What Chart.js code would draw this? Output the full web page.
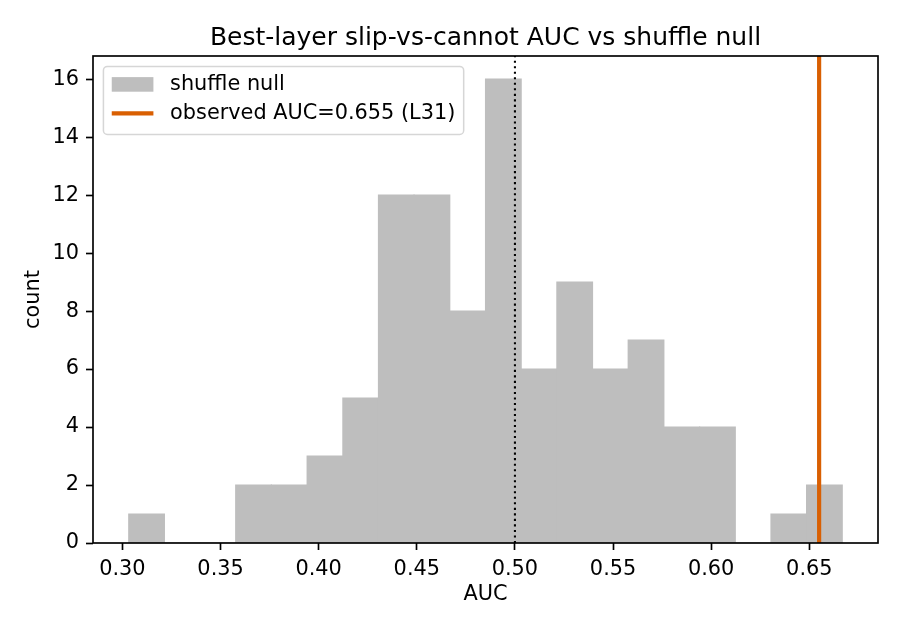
<!DOCTYPE html>
<html><head><meta charset="utf-8">
<script src="https://cdn.jsdelivr.net/npm/chart.js@4.4.1/dist/chart.umd.min.js"></script>
<style>html,body{margin:0;padding:0;background:#fff;} canvas{display:block;}</style>
</head><body>
<div style="width:900px;height:630px"><canvas id="c" width="900" height="630"></canvas></div>
<script>
// ---- data ----
const binEdges = [0.3032, 0.3214, 0.3395, 0.3577, 0.3759, 0.3941, 0.4123, 0.4305, 0.4486, 0.4668,
                  0.4850, 0.5032, 0.5214, 0.5395, 0.5577, 0.5759, 0.5941, 0.6123, 0.6305, 0.6486, 0.6668];
const nullCounts = [1, 0, 0, 2, 2, 3, 5, 12, 12, 8, 16, 6, 9, 6, 7, 4, 4, 0, 1, 2];
const xTickValues = [0.30, 0.35, 0.40, 0.45, 0.50, 0.55, 0.60, 0.65];
const yTickValues = [0, 2, 4, 6, 8, 10, 12, 14, 16];
const xRange = [0.285, 0.685];
const yRange = [0, 16.8];
const observedAUC = 0.655;
const chanceAUC = 0.5;
const titleText = 'Best-layer slip-vs-cannot AUC vs shuffle null';
const xLabel = 'AUC';
const yLabel = 'count';
const nullLabel = 'shuffle null';
const observedLabel = 'observed AUC=0.655 (L31)';

// ---- styling ----
const FONT = '"DejaVu Sans", sans-serif';
const FS = 20.83;
const LW = 1.67;
const barColor = '#bebebe';
const obsColor = '#d95f02';

const histPoints = nullCounts.map((c, i) => ({x: (binEdges[i] + binEdges[i + 1]) / 2, y: c}));

const framePlugin = {
  id: 'frame',
  afterDatasetsDraw(chart) {
    const {ctx, chartArea: a} = chart;
    ctx.save();
    ctx.strokeStyle = '#000';
    ctx.lineWidth = LW;
    ctx.strokeRect(a.left, a.top, a.right - a.left, a.bottom - a.top);
    ctx.restore();
  }
};

const titlePlugin = {
  id: 'axTitle',
  afterDraw(chart) {
    const {ctx, chartArea: a} = chart;
    ctx.save();
    ctx.font = '25px ' + FONT;
    ctx.fillStyle = '#000';
    ctx.textAlign = 'center';
    ctx.textBaseline = 'alphabetic';
    ctx.fillText(titleText, (a.left + a.right) / 2, a.top - 11);
    ctx.restore();
  }
};

const legendPlugin = {
  id: 'mplLegend',
  afterDraw(chart) {
    const {ctx, chartArea: a} = chart;
    const items = chart.data.datasets.filter(d => d.legendKind).sort((p, q) => p.legendRank - q.legendRank);
    ctx.save();
    ctx.font = FS + 'px ' + FONT;
    const textW = Math.max(...items.map(d => ctx.measureText(d.label).width));
    const pad = 0.4 * FS, handleL = 2 * FS, gap = 0.8 * FS;
    const x0 = a.left + 0.5 * FS, y0 = a.top + 0.5 * FS;
    const w = pad + handleL + gap + textW + pad;
    const h = 68;
    const r = 4;
    ctx.beginPath();
    ctx.roundRect(x0, y0, w, h, r);
    ctx.fillStyle = 'rgba(255,255,255,0.8)';
    ctx.fill();
    ctx.strokeStyle = 'rgba(204,204,204,0.8)';
    ctx.lineWidth = 1.5;
    ctx.stroke();
    const rowY = [y0 + 18, y0 + 47];
    items.forEach((d, i) => {
      const cy = rowY[i];
      const hx = x0 + pad;
      if (d.legendKind === 'patch') {
        ctx.fillStyle = d.backgroundColor;
        ctx.fillRect(hx, cy - 0.35 * FS, handleL, 0.7 * FS);
      } else {
        ctx.strokeStyle = d.borderColor;
        ctx.lineWidth = d.borderWidth;
        ctx.beginPath();
        ctx.moveTo(hx, cy);
        ctx.lineTo(hx + handleL, cy);
        ctx.stroke();
      }
      ctx.fillStyle = '#000';
      ctx.textBaseline = 'middle';
      ctx.textAlign = 'left';
      ctx.fillText(d.label, hx + handleL + gap, cy);
    });
    ctx.restore();
  }
};

new Chart(document.getElementById('c'), {
  type: 'bar',
  data: {
    datasets: [
      {type: 'line', label: observedLabel, data: [{x: observedAUC, y: yRange[0]}, {x: observedAUC, y: yRange[1]}],
       borderColor: obsColor, borderWidth: 4.17, pointRadius: 0, order: 1, legendKind: 'line', legendRank: 2},
      {type: 'line', label: 'chance', data: [{x: chanceAUC, y: yRange[0]}, {x: chanceAUC, y: yRange[1]}],
       borderColor: '#000', borderWidth: 2.08, borderDash: [2.08, 3.44], borderCapStyle: 'butt', pointRadius: 0, order: 2},
      {type: 'bar', label: nullLabel, data: histPoints, backgroundColor: barColor, borderWidth: 0, inflateAmount: 0.6,
       barPercentage: 1, categoryPercentage: 1, grouped: false, order: 3, legendKind: 'patch', legendRank: 1}
    ]
  },
  options: {
    responsive: false,
    animation: false,
    events: [],
    layout: {padding: {left: 0, right: 22, top: 56, bottom: 0}},
    plugins: {
      legend: {display: false},
      tooltip: {enabled: false},
      title: {display: false}
    },
    scales: {
      x: {
        type: 'linear', min: xRange[0], max: xRange[1], offset: false,
        afterBuildTicks: s => { s.ticks = xTickValues.map(v => ({value: v})); },
        afterFit: s => { s.height = 87; },
        ticks: {color: '#000', font: {family: FONT, size: FS}, padding: 7, maxRotation: 0,
                callback: v => Number(v).toFixed(2)},
        grid: {display: true, offset: false, drawOnChartArea: false, drawTicks: true, tickLength: 7, tickWidth: LW, tickColor: '#000'},
        border: {display: false},
        title: {display: true, text: xLabel, color: '#000', font: {family: FONT, size: FS}, padding: {top: 0, bottom: 22.5}}
      },
      y: {
        type: 'linear', min: yRange[0], max: yRange[1],
        afterBuildTicks: s => { s.ticks = yTickValues.map(v => ({value: v})); },
        afterFit: s => { s.width = 93; },
        ticks: {color: '#000', font: {family: FONT, size: FS}, padding: 7, callback: v => String(v)},
        grid: {display: true, drawOnChartArea: false, drawTicks: true, tickLength: 7, tickWidth: LW, tickColor: '#000'},
        border: {display: false},
        title: {display: true, text: yLabel, color: '#000', font: {family: FONT, size: FS}, padding: {top: 21.5, bottom: 0}}
      }
    }
  },
  plugins: [framePlugin, titlePlugin, legendPlugin]
});
</script>
</body></html>
